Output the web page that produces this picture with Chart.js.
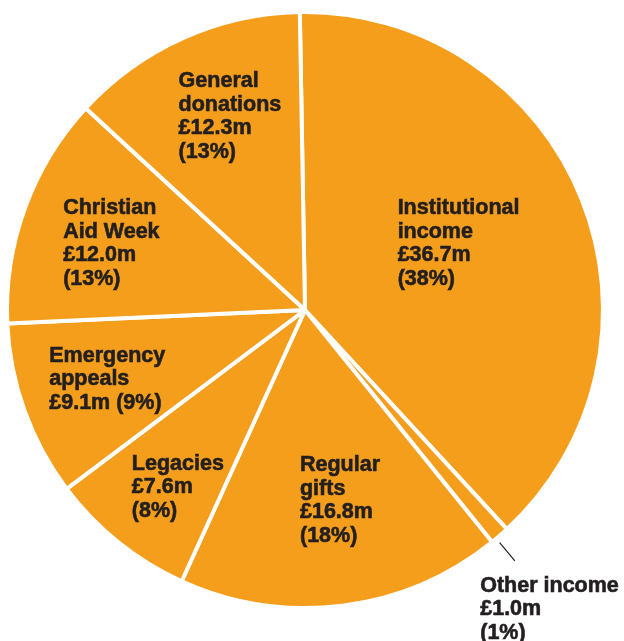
<!DOCTYPE html>
<html lang="en">
<head>
<meta charset="UTF-8">
<title>Income</title>
<script src="https://cdn.jsdelivr.net/npm/chart.js@4.4.1/dist/chart.umd.min.js"></script>
<style>
  html, body { margin: 0; padding: 0; background: #fff; }
  canvas { display: block; }
</style>
</head>
<body>
<canvas id="incomeChart" width="624" height="641"></canvas>
<script>
// slices, clockwise from the top
const categories = ['Institutional income', 'Other income', 'Regular gifts', 'Legacies',
                    'Emergency appeals', 'Christian Aid Week', 'General donations'];
const amounts = [36.7, 1.0, 16.8, 7.6, 9.1, 12.0, 12.3];   // £m
const percents = [38, 1, 18, 8, 9, 13, 13];
const nameLines = [
  ['Institutional', 'income'],
  ['Other income'],
  ['Regular', 'gifts'],
  ['Legacies'],
  ['Emergency', 'appeals'],
  ['Christian', 'Aid Week'],
  ['General', 'donations']
];

// where each label sits, in units of the pie radius from the centre
const labelOffset = [[0.313, -0.323], [0.592, 0.952], [-0.017, 0.545], [-0.585, 0.540],
                     [-0.864, 0.175], [-0.817, -0.323], [-0.427, -0.753]];

function labelText(i) {
  const money = '£' + amounts[i].toFixed(1) + 'm';
  const pct = '(' + percents[i] + '%)';
  if (i === 4) return nameLines[i].concat([money + ' ' + pct]);
  return nameLines[i].concat([money, pct]);
}

const sliceLabels = {
  id: 'sliceLabels',
  afterDatasetsDraw(chart) {
    const ctx = chart.ctx;
    const arcs = chart.getDatasetMeta(0).data;
    ctx.save();
    ctx.font = 'bold 21.5px "Liberation Sans", Arial, sans-serif';
    ctx.fillStyle = '#231f20';
    ctx.strokeStyle = '#231f20';
    ctx.textAlign = 'left';
    ctx.textBaseline = 'alphabetic';
    arcs.forEach((arc, i) => {
      const p = arc.getProps(['x', 'y', 'outerRadius', 'startAngle', 'endAngle'], true);
      const r = p.outerRadius - 2;
      const lx = p.x + labelOffset[i][0] * r;
      const ly = p.y + labelOffset[i][1] * r;
      ctx.lineWidth = 0.6;
      labelText(i).forEach((t, k) => {
        ctx.fillText(t, lx, ly + k * 23.5);
        ctx.strokeText(t, lx, ly + k * 23.5);   // a touch heavier, like the print
      });
      if (i === 1) {
        // leader line for the thin slice
        const mid = (p.startAngle + p.endAngle) / 2 + 0.015;
        ctx.lineWidth = 1.2;
        ctx.beginPath();
        ctx.moveTo(p.x + Math.cos(mid) * r * 1.025, p.y + Math.sin(mid) * r * 1.025);
        ctx.lineTo(p.x + Math.cos(mid) * r * 1.105, p.y + Math.sin(mid) * r * 1.105);
        ctx.stroke();
      }
    });
    ctx.restore();
  }
};

new Chart(document.getElementById('incomeChart'), {
  type: 'pie',
  data: {
    labels: categories,
    datasets: [{
      data: amounts,
      backgroundColor: '#f49e1c',
      borderColor: '#ffffff',
      borderWidth: 4
    }]
  },
  options: {
    responsive: false,
    animation: false,
    rotation: -1,
    layout: { padding: { left: 5, top: 10, right: 19, bottom: 31 } },
    plugins: {
      legend: { display: false },
      tooltip: { enabled: false }
    }
  },
  plugins: [sliceLabels]
});
</script>
</body>
</html>
